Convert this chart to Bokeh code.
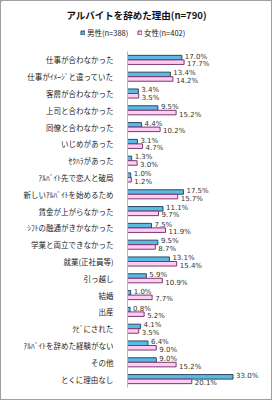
from bokeh.plotting import figure
from bokeh.layouts import column
from bokeh.models import ColumnDataSource, FactorRange, Range1d, Legend, LegendItem
from bokeh.transform import dodge
from bokeh.core.properties import value
from bokeh.embed import file_html
from bokeh.resources import INLINE

title = "アルバイトを辞めた理由(n=790)"
categories = [
    "仕事が合わなかった",
    "仕事がｲﾒｰｼﾞと違っていた",
    "客層が合わなかった",
    "上司と合わなかった",
    "同僚と合わなかった",
    "いじめがあった",
    "ｾｸﾊﾗがあった",
    "ｱﾙﾊﾞｲﾄ先で恋人と破局",
    "新しいｱﾙﾊﾞｲﾄを始めるため",
    "賃金が上がらなかった",
    "ｼﾌﾄの融通がきかなかった",
    "学業と両立できなかった",
    "就業(正社員等)",
    "引っ越し",
    "結婚",
    "出産",
    "ｸﾋﾞにされた",
    "ｱﾙﾊﾞｲﾄを辞めた経験がない",
    "その他",
    "とくに理由なし",
]
male = [17.0, 13.4, 3.4, 9.5, 4.4, 3.1, 1.3, 1.0, 17.5, 11.1, 7.5, 9.5, 13.1, 5.9, 1.0, 0.8, 4.1, 6.4, 9.0, 33.0]
female = [17.7, 14.2, 3.5, 15.2, 10.2, 4.7, 3.0, 1.2, 15.7, 9.7, 11.9, 8.7, 15.4, 10.9, 7.7, 5.2, 3.5, 9.0, 15.2, 20.1]
series_names = ["男性(n=388)", "女性(n=402)"]

JP = "Noto Sans CJK JP"
BLUE = "#5BB9E2"
BLUE_LINE = "#2E4A66"
PINK = "#FFCCF4"
PINK_LINE = "#7A3A6E"

src = ColumnDataSource(dict(
    cat=categories,
    male=male,
    female=female,
    male_lbl=[f"{v:.1f}%" for v in male],
    female_lbl=[f"{v:.1f}%" for v in female],
))

# ---------- header figure: title + legend ----------
top = figure(width=270, height=49, x_range=Range1d(0, 270), y_range=Range1d(49, 0),
             output_backend="svg", toolbar_location=None,
             x_axis_location=None, y_axis_location=None,
             min_border=0, min_border_left=0, min_border_right=0,
             min_border_top=0, min_border_bottom=0)
top.frame_align = False
top.grid.visible = False
top.outline_line_color = None
top.text(x=[135], y=[13], text=[title], text_align="center", text_baseline="middle",
         text_font=value(JP), text_font_size="9.5px", text_font_style="bold",
         text_color="#111111")

# zero-size, off-frame swatch renderers that only carry the legend styling
d_m = top.hbar(y=[-100], left=[0], right=[0], height=0, fill_color=BLUE, line_color=BLUE_LINE)
d_f = top.hbar(y=[-100], left=[0], right=[0], height=0, fill_color=PINK, line_color=PINK_LINE)

def make_legend(label, rend, x):
    return Legend(items=[LegendItem(label=label, renderers=[rend])],
                  orientation="horizontal", location=(x, 12),
                  glyph_width=5, glyph_height=5, label_height=10, label_width=10,
                  label_text_font=JP, label_text_font_size="7.5px",
                  label_text_color="#222222", label_text_baseline="middle",
                  padding=0, margin=0, spacing=0, label_standoff=2,
                  background_fill_alpha=0, border_line_color=None)

top.add_layout(make_legend(series_names[0], d_m, 79))
top.add_layout(make_legend(series_names[1], d_f, 136))

# ---------- main bar chart ----------
p = figure(
    width=270, height=349,
    y_range=FactorRange(*reversed(categories)),
    x_range=Range1d(0, 44.4),
    output_backend="svg", toolbar_location=None,
    min_border_left=126, min_border_right=2,
    min_border_top=1, min_border_bottom=12,
)
p.frame_align = False
p.outline_line_color = None
p.xgrid.visible = False
p.ygrid.visible = False
p.xaxis.visible = False

yax = p.yaxis[0]
yax.axis_line_color = "#B8B8B8"
yax.major_tick_line_color = None
yax.minor_tick_line_color = None
yax.major_label_text_font = JP
yax.major_label_text_font_size = "7.5px"
yax.major_label_text_color = "#222222"
yax.major_label_standoff = 8

p.hbar(y=dodge("cat", 0.135, range=p.y_range), right="male", left=0, height=0.27,
       fill_color=BLUE, line_color=BLUE_LINE, line_width=1, source=src)
p.hbar(y=dodge("cat", -0.135, range=p.y_range), right="female", left=0, height=0.27,
       fill_color=PINK, line_color=PINK_LINE, line_width=1, source=src)

p.text(x="male", y=dodge("cat", 0.135, range=p.y_range), text="male_lbl", source=src,
       x_offset=3, y_offset=-1, text_baseline="middle", text_align="left",
       text_font=value("DejaVu Sans"), text_font_size="7px", text_color="#333333")
p.text(x="female", y=dodge("cat", -0.135, range=p.y_range), text="female_lbl", source=src,
       x_offset=3, y_offset=2, text_baseline="middle", text_align="left",
       text_font=value("DejaVu Sans"), text_font_size="7px", text_color="#333333")

layout = column(top, p, spacing=0)
layout.styles = {"border": "1px solid #A0A0A0"}

open("out.html", "w").write(file_html(layout, INLINE))
